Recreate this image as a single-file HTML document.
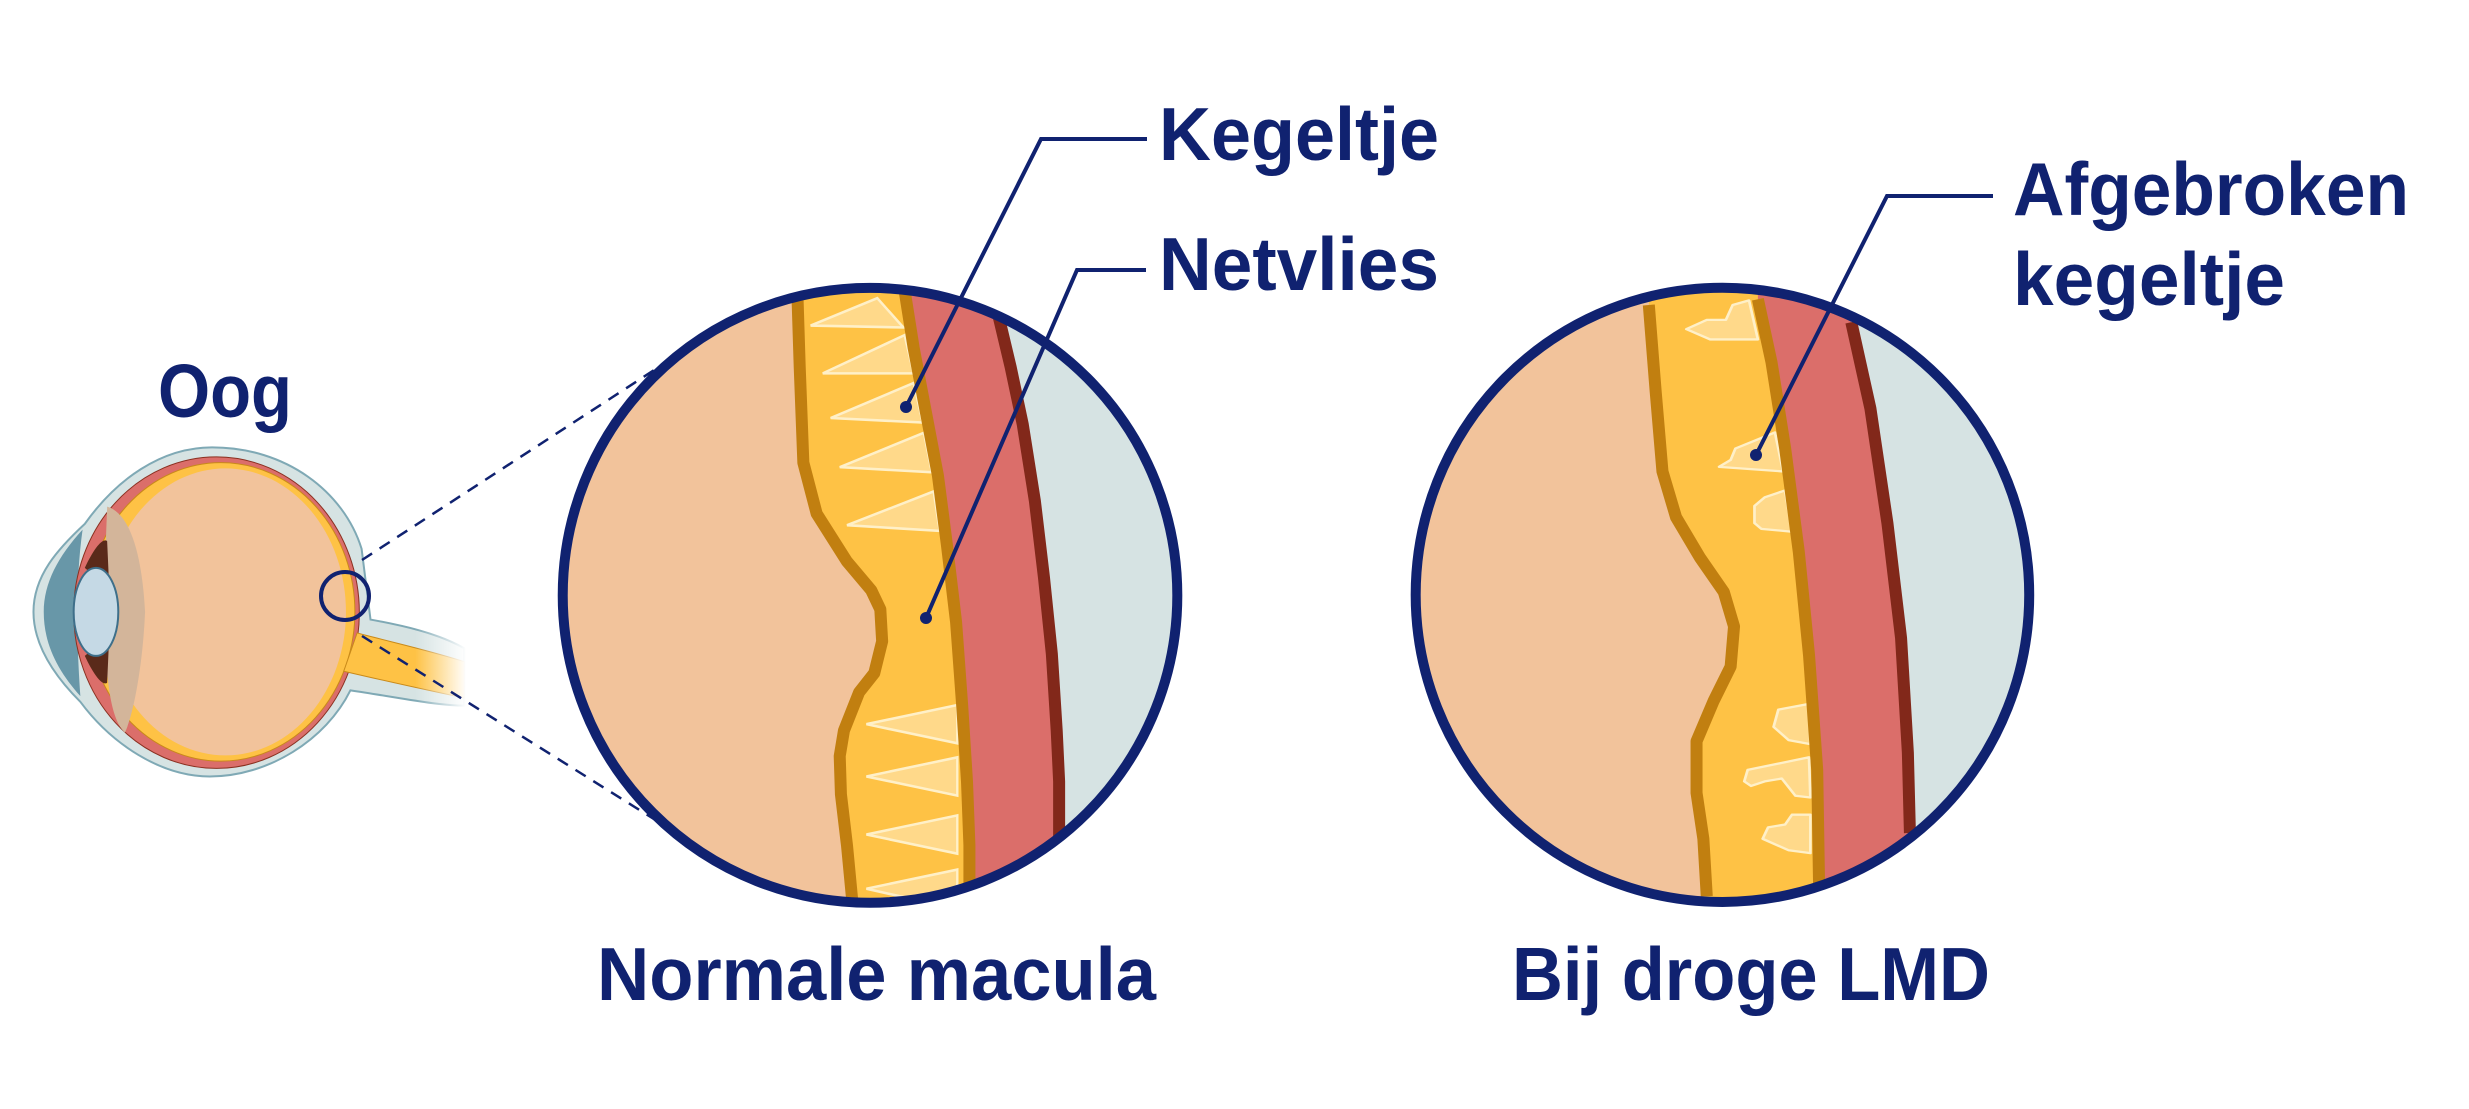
<!DOCTYPE html>
<html><head><meta charset="utf-8"><style>
html,body{margin:0;padding:0;background:#fff;}
svg{display:block}
text{font-family:"Liberation Sans",sans-serif;font-weight:bold;fill:#102270;}
</style></head><body>
<svg width="2469" height="1109" viewBox="0 0 2469 1109" xmlns="http://www.w3.org/2000/svg">
<defs>
<linearGradient id="fade" x1="0" x2="1" y1="0" y2="0">
<stop offset="0" stop-color="#fff" stop-opacity="0"/><stop offset="1" stop-color="#fff" stop-opacity="1"/>
</linearGradient>
</defs>

<!-- EYE (zoom1 coords) -->
<g transform="translate(0,300) scale(0.4464,0.3827)">
  <path d="M190,585 C260,470 360,385 475,385 C640,385 770,500 810,650 L830,835 C900,850 980,870 1040,910 L1040,1060 C980,1060 900,1040 785,1020 C730,1150 600,1245 470,1245 C360,1245 250,1160 180,1050 C120,980 75,900 75,815 C75,720 130,650 190,585 Z" fill="#D6E3E3" stroke="#7FA9B5" stroke-width="2" vector-effect="non-scaling-stroke"/>
  <path d="M185,600 C130,670 98,740 98,815 C98,900 130,970 180,1035 C172,900 168,740 185,600 Z" fill="#6897A8"/>
  <ellipse cx="485" cy="817" rx="320" ry="407" fill="#DB6E6A" stroke="#8A3020" stroke-width="1" vector-effect="non-scaling-stroke"/>
  <ellipse cx="495" cy="815" rx="300" ry="390" fill="#FEC245" stroke="#C98A1A" stroke-width="1" vector-effect="non-scaling-stroke"/>
  <ellipse cx="505" cy="815" rx="270" ry="375" fill="#F2C39B"/>
  <path d="M240,540 C300,560 320,700 325,815 C320,950 300,1080 280,1130 C250,1100 235,1000 235,815 C235,650 240,560 240,540 Z" fill="#D3B59A"/>
  <path d="M190,700 C210,650 230,620 240,630 L245,760 C225,730 205,715 190,700 Z" fill="#5A2A1A"/>
  <path d="M190,930 C210,980 230,1010 240,1000 L245,870 C225,900 205,915 190,930 Z" fill="#5A2A1A"/>
  <ellipse cx="215" cy="815" rx="50" ry="115" fill="#C5D9E5" stroke="#3E6F8A" stroke-width="2" vector-effect="non-scaling-stroke"/>
  <path d="M800,870 C880,895 960,915 1040,945 L1040,1040 C960,1020 880,1000 770,970 Z" fill="#FEC245" stroke="#C98A1A" stroke-width="1" vector-effect="non-scaling-stroke"/>
  <rect x="930" y="840" width="115" height="240" fill="url(#fade)"/>
</g>
<circle cx="345" cy="596" r="24" fill="none" stroke="#102270" stroke-width="4"/>
<line x1="362" y1="560" x2="665" y2="363" stroke="#102270" stroke-width="2.5" stroke-dasharray="12,9"/>
<line x1="362" y1="636" x2="665" y2="826" stroke="#102270" stroke-width="2.5" stroke-dasharray="12,9"/>
<text x="158" y="417" font-size="75" textLength="134" lengthAdjust="spacingAndGlyphs">Oog</text>

<!-- CIRCLE 1 (zoom2 coords) -->
<g transform="translate(550,80) scale(0.6061,0.6378)">
  <clipPath id="c1"><ellipse cx="528" cy="808" rx="507" ry="482"/></clipPath>
  <g clip-path="url(#c1)">
    <rect x="0" y="300" width="1100" height="1100" fill="#D6E3E3"/>
    <polygon points="0,300 740,300 740,370 760,450 780,540 800,660 815,780 828,900 836,1020 840,1100 840,1350 0,1350" fill="#DB6E6A"/>
    <polygon points="0,300 585,300 585,330 600,420 620,520 640,620 655,730 670,850 680,980 688,1100 692,1200 692,1350 0,1350" fill="#FEC245"/>
    <polygon points="0,300 408,300 408,330 412,450 418,600 440,680 490,755 530,800 545,830 548,880 535,930 510,960 485,1020 478,1060 480,1120 490,1200 500,1350 0,1350" fill="#F2C39B"/>
    <g fill="#FFD98A" stroke="#FFF0C8" stroke-width="4">
      <polygon points="430,385 540,342 583,388"/>
      <polygon points="450,460 585,400 600,460"/>
      <polygon points="463,530 600,475 615,537"/>
      <polygon points="478,607 617,553 630,615"/>
      <polygon points="490,698 633,645 643,707"/>
      <polygon points="522,1010 672,980 672,1040"/>
      <polygon points="522,1092 672,1062 672,1122"/>
      <polygon points="522,1183 672,1153 672,1213"/>
      <polygon points="522,1268 672,1238 672,1300"/>
    </g>
    <g fill="none" stroke-linejoin="round">
      <polyline stroke="#82281A" stroke-width="12" vector-effect="non-scaling-stroke" points="740,370 760,450 780,540 800,660 815,780 828,900 836,1020 840,1100 840,1250"/>
      <polyline stroke="#C17F10" stroke-width="12" vector-effect="non-scaling-stroke" points="585,330 600,420 620,520 640,620 655,730 670,850 680,980 688,1100 692,1200 692,1300"/>
      <polyline stroke="#C17F10" stroke-width="12" vector-effect="non-scaling-stroke" points="408,330 412,450 418,600 440,680 490,755 530,800 545,830 548,880 535,930 510,960 485,1020 478,1060 480,1120 490,1200 500,1300"/>
    </g>
  </g>
  <ellipse cx="528" cy="808" rx="507" ry="482" fill="none" stroke="#102270" stroke-width="10" vector-effect="non-scaling-stroke"/>
</g>
<polyline points="1147,139 1041,139 906,407" fill="none" stroke="#102270" stroke-width="4"/>
<circle cx="906" cy="407" r="6" fill="#102270"/>
<polyline points="1146,270 1077,270 926,618" fill="none" stroke="#102270" stroke-width="4"/>
<circle cx="926" cy="618" r="6" fill="#102270"/>
<text x="1159" y="160" font-size="75" textLength="280" lengthAdjust="spacingAndGlyphs">Kegeltje</text>
<text x="1159" y="290" font-size="75" textLength="280" lengthAdjust="spacingAndGlyphs">Netvlies</text>
<text x="597" y="1000" font-size="75" textLength="559" lengthAdjust="spacingAndGlyphs">Normale macula</text>

<!-- CIRCLE 2 (zoom3 coords) -->
<g transform="translate(1400,150) scale(0.6817,0.5740)">
  <clipPath id="c2"><ellipse cx="473" cy="775" rx="450" ry="535"/></clipPath>
  <g clip-path="url(#c2)">
    <rect x="0" y="200" width="1000" height="1200" fill="#D6E3E3"/>
    <polygon points="0,200 662,200 662,300 690,450 715,650 735,850 745,1050 748,1190 748,1350 0,1350" fill="#DB6E6A"/>
    <polygon points="0,200 525,200 525,260 545,370 565,520 585,700 600,880 612,1080 615,1270 615,1350 0,1350" fill="#FEC245"/>
    <polygon points="0,200 365,200 365,270 375,420 385,560 405,640 440,710 475,770 490,830 485,900 460,960 435,1030 435,1120 445,1200 450,1350 0,1350" fill="#F2C39B"/>
    <g fill="#FFD98A" stroke="#FFF0C8" stroke-width="4" stroke-linejoin="round">
      <polygon points="420,312 450,296 478,296 488,270 512,262 525,330 455,330"/>
      <polygon points="468,552 485,540 492,520 550,492 562,560"/>
      <polygon points="520,650 520,620 535,605 565,593 575,665 530,660"/>
      <polygon points="548,1005 555,975 600,965 602,1035 570,1028"/>
      <polygon points="505,1100 510,1080 600,1058 602,1128 580,1125 560,1095 535,1100 515,1108"/>
      <polygon points="532,1200 540,1180 565,1175 575,1158 602,1158 602,1225 570,1220"/>
    </g>
    <g fill="none" stroke-linejoin="round">
      <polyline stroke="#82281A" stroke-width="12" vector-effect="non-scaling-stroke" points="662,300 690,450 715,650 735,850 745,1050 748,1190"/>
      <polyline stroke="#C17F10" stroke-width="12" vector-effect="non-scaling-stroke" points="525,260 545,370 565,520 585,700 600,880 612,1080 615,1300"/>
      <polyline stroke="#C17F10" stroke-width="12" vector-effect="non-scaling-stroke" points="365,270 375,420 385,560 405,640 440,710 475,770 490,830 485,900 460,960 435,1030 435,1120 445,1200 450,1300"/>
    </g>
  </g>
  <ellipse cx="473" cy="775" rx="450" ry="535" fill="none" stroke="#102270" stroke-width="10" vector-effect="non-scaling-stroke"/>
</g>
<polyline points="1993,196 1887,196 1756,455" fill="none" stroke="#102270" stroke-width="4"/>
<circle cx="1756" cy="455" r="6" fill="#102270"/>
<text x="2013" y="215" font-size="75" textLength="396" lengthAdjust="spacingAndGlyphs">Afgebroken</text>
<text x="2013" y="305" font-size="75" textLength="272" lengthAdjust="spacingAndGlyphs">kegeltje</text>
<text x="1512" y="1000" font-size="75" textLength="478" lengthAdjust="spacingAndGlyphs">Bij droge LMD</text>
</svg>
</body></html>
